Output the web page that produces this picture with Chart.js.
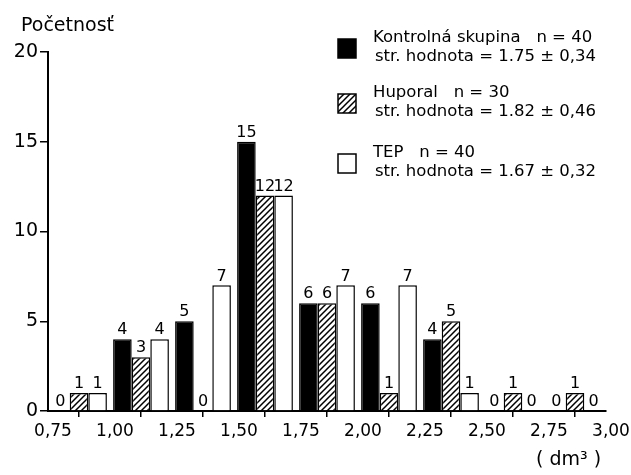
<!DOCTYPE html>
<html>
<head>
  <meta charset="UTF-8">
  <title>Početnosť</title>
  <script src="https://cdn.jsdelivr.net/npm/chart.js"></script>
  <style>
    body { margin: 0; padding: 0; background: #fff; }
    #chart-container { width: 631px; height: 475px; }
  </style>
</head>
<body>
  <div id="chart-container">
    <canvas id="myChart"></canvas>
  </div>
  <script>
    // stredy intervalov (dm3), šírka intervalu 0,25
    const binCenters = [0.875, 1.125, 1.375, 1.625, 1.875, 2.125, 2.375, 2.625, 2.875];
    const kontrolna = [0, 4, 5, 15, 6, 6, 4, 0, 0];
    const huporal   = [1, 3, 0, 12, 6, 1, 5, 1, 1];
    const tep       = [1, 4, 7, 12, 7, 7, 1, 0, 0];

    const seriesNames = ['Kontrolná skupina', 'Huporal', 'TEP'];
    const legendLine1 = ['Kontrolná skupina   n = 40', 'Huporal   n = 30', 'TEP   n = 40'];
    const legendLine2 = ['str. hodnota = 1.75 ± 0,34', 'str. hodnota = 1.82 ± 0,46', 'str. hodnota = 1.67 ± 0,32'];
    const yTitle = 'Početnosť';
    const xUnit = '( dm³ )';

    const FONT = '"DejaVu Sans", sans-serif';

    function hatch() {
      const c = document.createElement('canvas');
      c.width = 6; c.height = 6;
      const g = c.getContext('2d');
      g.fillStyle = '#fff';
      g.fillRect(0, 0, 6, 6);
      g.strokeStyle = '#000';
      g.lineWidth = 1.5;
      g.beginPath();
      g.moveTo(-1, 7); g.lineTo(7, -1);
      g.moveTo(-1, 1); g.lineTo(1, -1);
      g.moveTo(5, 7); g.lineTo(7, 5);
      g.stroke();
      return g.createPattern(c, 'repeat');
    }
    const hatchFill = hatch();
    const fills = ['#000', hatchFill, '#fff'];

    const toPoints = vals => vals.map((v, i) => ({ x: binCenters[i], y: v }));

    // čísla nad stĺpcami
    const barValues = {
      id: 'barValues',
      afterDatasetsDraw(chart) {
        const ctx = chart.ctx;
        ctx.save();
        ctx.fillStyle = '#000';
        ctx.font = '16px ' + FONT;
        ctx.textAlign = 'center';
        ctx.textBaseline = 'bottom';
        chart.data.datasets.forEach((ds, di) => {
          chart.getDatasetMeta(di).data.forEach((bar, i) => {
            ctx.fillText(String(ds.data[i].y), bar.x, bar.y - 1);
          });
        });
        ctx.restore();
      }
    };

    // legenda a popisy osí
    const extras = {
      id: 'extras',
      afterDraw(chart) {
        const ctx = chart.ctx;
        ctx.save();
        ctx.fillStyle = '#000';
        ctx.textBaseline = 'middle';
        ctx.font = '19px ' + FONT;
        ctx.fillText(yTitle, 21, 26);
        ctx.fillText(xUnit, 536, 460);

        const rows = [38, 93, 153];
        ctx.font = '16.5px ' + FONT;
        rows.forEach((y, i) => {
          ctx.fillStyle = fills[i];
          ctx.fillRect(338, y + 1, 18, 19);
          ctx.strokeStyle = '#000';
          ctx.lineWidth = 1.5;
          ctx.strokeRect(338, y + 1, 18, 19);
          ctx.fillStyle = '#000';
          ctx.fillText(legendLine1[i], 373, y);
          ctx.fillText(legendLine2[i], 375, y + 19);
        });
        ctx.restore();
      }
    };

    const ctx = document.getElementById('myChart').getContext('2d');
    window.myChart = new Chart(ctx, {
      type: 'bar',
      data: {
        datasets: [kontrolna, huporal, tep].map((vals, i) => ({
          label: seriesNames[i],
          data: toPoints(vals),
          backgroundColor: fills[i],
          borderColor: '#000',
          borderWidth: 1.5,
          borderSkipped: 'bottom',
          categoryPercentage: 0.9,
          barPercentage: 1.0
        }))
      },
      options: {
        responsive: true,
        maintainAspectRatio: false,
        animation: false,
        layout: { padding: { top: 52, right: 25, left: 0, bottom: 0 } },
        plugins: {
          legend: { display: false },
          tooltip: { enabled: false }
        },
        scales: {
          x: {
            type: 'linear',
            offset: false,
            min: 0.75,
            max: 3.0,
            afterFit: s => { s.height = 64; },
            afterBuildTicks: s => {
              s.ticks = [];
              for (let k = 0; k <= 9; k++) s.ticks.push({ value: 0.75 + k * 0.25 });
            },
            ticks: {
              color: '#000',
              font: { family: FONT, size: 17 },
              padding: 4,
              labelOffset: 5,
              maxRotation: 0,
              callback: v => v.toFixed(2).replace('.', ',')
            },
            grid: { display: true, drawOnChartArea: false, drawTicks: true, tickLength: 6, color: '#000', lineWidth: 1.5 },
            border: { display: true, color: '#000', width: 2 }
          },
          y: {
            min: 0,
            max: 20,
            afterFit: s => { s.width = 48; },
            ticks: {
              stepSize: 5,
              color: '#000',
              font: { family: FONT, size: 19 },
              padding: 2
            },
            grid: { display: true, drawOnChartArea: false, drawTicks: true, tickLength: 8, color: '#000', lineWidth: 1.5 },
            border: { display: true, color: '#000', width: 2 }
          }
        }
      },
      plugins: [barValues, extras]
    });
  </script>
</body>
</html>
